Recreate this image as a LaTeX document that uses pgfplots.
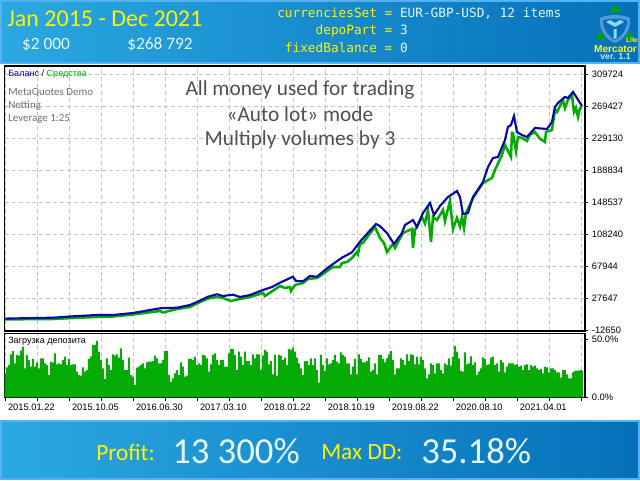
\documentclass[border=0pt]{standalone}
\usepackage{fontspec}
\usepackage{pgfplots}
\pgfplotsset{compat=1.18}
\setmainfont{Liberation Sans}
\newfontfamily\tf{Carlito}
\newfontfamily\mf{DejaVu Sans Mono}
\definecolor{bandL}{HTML}{2BA8E1}
\definecolor{bandR}{HTML}{0570B9}
\definecolor{bandB}{HTML}{55B2F2}
\definecolor{eqgreen}{HTML}{04AB04}
\definecolor{balblue}{HTML}{0808A8}
\definecolor{gridc}{HTML}{C4C4C4}
\definecolor{anno}{HTML}{505050}
\definecolor{meta}{HTML}{707070}
\pgfplotstableread{
x y
5 2000
20 2407
53 3164
73 4931
97 6572
113 6572
133 9096
160 15027
177 15784
190 19192
200 24618
208 29666
217 32695
223 30550
233 32190
240 29288
250 31812
263 38122
272 41908
280 47334
293 54906
296 49480
303 49101
310 55790
317 54906
325 63362
333 70934
342 78884
352 85699
360 99076
368 110434
376 121414
380 118890
387 110056
394 96174
402 110056
405 120152
413 126462
417 117628
423 135296
430 147916
434 132772
440 144130
448 155488
457 163060
460 155488
463 134034
468 135296
473 155488
483 174418
488 193348
493 204706
498 205968
505 227422
508 243828
511 246352
514 257710
517 237518
522 233732
527 231208
535 242566
547 241304
552 250138
555 269068
558 274116
565 281688
568 280426
573 287998
577 280426
582 270330
}\balance
\pgfplotstableread{
x y
5 1000
20 1200
53 1524
73 2786
97 4048
113 4679
133 7203
160 11620
163 9727
177 14144
190 16668
200 22978
208 27395
217 29288
223 28026
231 24240
240 26764
250 29288
263 34336
265 30550
277 40646
280 43170
285 40646
290 41908
291 36860
295 44432
303 46956
308 52004
317 53266
320 55790
327 62100
333 67148
340 67148
342 72196
347 73458
352 78506
357 86078
358 83554
360 96174
363 97436
368 106270
375 117628
380 103746
384 97436
387 86078
393 96174
395 91126
398 98698
403 110056
412 115104
413 91126
415 113842
422 130248
425 122000
428 139082
431 98698
433 130248
437 126462
443 139082
445 125000
447 135296
450 150440
453 115104
457 128986
460 118000
462 130248
464 116366
466 135296
473 154226
483 173156
492 179466
495 189562
502 208492
505 221112
511 205968
512 236256
513 236256
516 213540
518 231208
522 229946
527 226160
530 234000
535 237518
540 229000
545 224898
546 237518
552 240042
555 265282
557 262758
563 277902
565 267806
568 278000
572 284212
574 262758
576 268000
578 256448
580 267806
582 269068
}\equity
\begin{document}
\begin{tikzpicture}
\path[use as bounding box] (0,0) rectangle (480pt,360pt);
\fill[white] (0,0) rectangle (480pt,360pt);
\begin{scope}[x=0.75pt,y=0.75pt]
\shade[left color=bandL,right color=bandR,draw=bandB,line width=1.5pt] (0.75,417.5) rectangle (639.25,479.25);
\shade[left color=bandL,right color=bandR,draw=bandB,line width=1.5pt] (0.75,0.75) rectangle (639.25,59.5);
\end{scope}
% main panel
\begin{axis}[
  at={(3.525pt,111.75pt)},anchor=south west,
  scale only axis,width=435.2pt,height=198.75pt,
  xmin=4.7,xmax=585,ymin=-13620,ymax=320810,
  axis line style={black,line width=0.85pt},
  xmajorgrids=true,ymajorgrids=true,
  major grid style={draw=gridc,line width=0.75pt,dash pattern=on 3pt off 2.2pt},
  xtick={5.3,37.3,69.3,101.3,133.3,165.3,197.3,229.3,261.3,293.3,325.3,357.3,389.3,421.3,453.3,485.3,517.3,549.3,581.3},
  xticklabels={},
  xtick style={draw=none},
  scaled y ticks=false,
  ytick={-12650,27647,67944,108240,148537,188834,229130,269427,309724},
  yticklabels={-12650,27647,67944,108240,148537,188834,229130,269427,309724},
  ytick pos=right,yticklabel pos=right,
  ytick align=outside,
  major tick length=2.5pt,
  ytick style={black,line width=0.6pt},
  yticklabel style={font=\fontsize{7}{8}\selectfont,xshift=-0.8pt},
]
\addplot[eqgreen,line width=1.9pt,line join=miter] table[x=x,y=y]{\equity};
\addplot[balblue,line width=1.6pt,line join=miter] table[x=x,y=y]{\balance};
\end{axis}
% load panel
\begin{axis}[
  at={(3.525pt,62pt)},anchor=south west,
  scale only axis,width=435.2pt,height=48.2pt,
  xmin=4.7,xmax=585,ymin=0,ymax=55.1,
  axis line style={black,line width=0.85pt},
  xmajorgrids=true,
  major grid style={draw=gridc,line width=0.75pt,dash pattern=on 3pt off 2.2pt},
  xtick={5.3,37.3,69.3,101.3,133.3,165.3,197.3,229.3,261.3,293.3,325.3,357.3,389.3,421.3,453.3,485.3,517.3,549.3,581.3},
  xticklabels={2015.01.22,,2015.10.05,,2016.06.30,,2017.03.10,,2018.01.22,,2018.10.19,,2019.08.22,,2020.08.10,,2021.04.01,,},
  xtick pos=bottom,
  x tick label style={anchor=north west,font=\fontsize{7}{8}\selectfont,xshift=-1.5pt,yshift=1pt},
  ytick={0,50},yticklabels={0.0\%,50.0\%},
  ytick pos=right,yticklabel pos=right,
  tick align=outside,
  major tick length=2.5pt,
  tick style={black,line width=0.6pt},
  yticklabel style={font=\fontsize{7}{8}\selectfont,xshift=-0.8pt},
]
\addplot[const plot,fill=eqgreen,draw=none] coordinates {
(4,20.6)(6,25.7)(8,27.7)(10,36.9)(12,39.7)(14,29.1)(16,36.3)(18,35.7)(20,40)(22,43.4)(24,24.9)(26,36.3)(28,32)(30,26.3)(32,32.9)(34,26.3)(36,30)(38,24.9)(40,33.4)(42,33.4)(44,29.1)(46,27.7)(48,19.1)(50,30.6)(52,30)(54,37.7)(56,28.3)(58,29.1)(60,28.3)(62,32)(64,34.9)(66,27.7)(68,32.9)(70,27.7)(72,28.3)(74,28.3)(76,22)(78,19.1)(80,18.6)(82,25.7)(84,22)(86,23.4)(88,32.9)(90,34.9)(92,44.9)(94,44.9)(96,48.3)(98,39.1)(100,32)(102,24.9)(104,15.7)(106,33.4)(108,27.7)(110,23.4)(112,36.9)(114,35.7)(116,36.9)(118,34)(120,42)(122,32)(124,23.4)(126,23.4)(128,34)(130,19.1)(132,17.7)(134,10.6)(136,25.4)(138,26.3)(140,27.7)(142,29.1)(144,24.9)(146,30)(148,30.6)
(150,30.6)(152,31.1)(154,35.7)(156,33.4)(158,29.1)(160,29.1)(162,32)(164,39.7)(166,39.7)(168,19.1)(170,13.4)(172,16.3)(174,20.6)(176,23.4)(178,19.1)(180,30)(182,26.3)(184,17.7)(186,18.6)(188,32.9)(190,32.9)(192,32)(194,34.9)(196,27.7)(198,29.1)(200,27.7)(202,36.3)(204,35.7)(206,33.4)(208,22)(210,28.3)(212,36.3)(214,37.7)(216,32)(218,27.7)(220,32)(222,32)(224,26.3)(226,26.3)(228,37.7)(230,41.4)(232,41.4)(234,36.3)(236,23.4)(238,39.1)(240,34.9)(242,27.7)(244,39.1)(246,31.1)(248,31.1)(250,27.7)(252,36.9)(254,33.4)(256,36.9)(258,36.9)(260,23.4)(262,35.7)(264,40.6)(266,39.1)(268,28.3)(270,31.1)(272,19.7)(274,36.3)(276,18.6)(278,36.3)(280,35.7)(282,32)(284,34)(286,27.7)(288,41.4)(290,40.6)(292,42.6)(294,39.1)(296,34)(298,29.1)
(300,24.9)(302,19.1)(304,31.1)(306,31.1)(308,27.7)(310,33.4)(312,27.7)(314,33.4)(316,23.4)(318,12.6)(320,36.3)(322,27.7)(324,22.6)(326,33.4)(328,28.3)(330,29.1)(332,32)(334,36.3)(336,30.6)(338,29.1)(340,38.6)(342,36.3)(344,34.9)(346,29.1)(348,29.1)(350,19.7)(352,26.3)(354,32.9)(356,19.7)(358,36.9)(360,32.9)(362,30)(364,30)(366,31.1)(368,34.3)(370,22)(372,23.4)(374,29.1)(376,19.7)(378,36.3)(380,36.3)(382,32.9)(384,30)(386,33.4)(388,36.9)(390,39.7)(392,32)(394,19.7)(396,24.9)(398,24.9)(400,33.4)(402,32)(404,27.7)(406,36.9)(408,31.1)(410,36.9)(412,36.3)(414,28.3)(416,34.9)(418,28.3)(420,34.9)(422,32)(424,24.9)(426,16.3)(428,19.7)(430,29.1)(432,27.7)(434,20.6)(436,29.1)(438,29.1)(440,23.4)(442,20.6)(444,29.1)(446,27.7)(448,33.4)
(450,27.1)(452,34.9)(454,44)(456,39.1)(458,33.4)(460,22.6)(462,22)(464,38.6)(466,28.3)(468,29.1)(470,35.1)(472,27.7)(474,30)(476,19.1)(478,22)(480,24.9)(482,34.3)(484,32.9)(486,27.7)(488,28.3)(490,34)(492,34.9)(494,27.7)(496,29.1)(498,22)(500,32)(502,30)(504,21.4)(506,26.3)(508,29.1)(510,29.1)(512,29.1)(514,27.7)(516,28.6)(518,26.3)(520,27.1)(522,23.4)(524,27.7)(526,28.3)(528,23.4)(530,27.7)(532,26.3)(534,27.1)(536,24.9)(538,23.4)(540,24.3)(542,20.6)(544,26.3)(546,25.7)(548,21.4)(550,24.9)(552,24.9)(554,23.4)(556,21.4)(558,21.4)(560,16.9)(562,23.4)(564,23.4)(566,19.7)(568,16.3)(570,16.3)(572,21.4)(574,22.6)(576,22.9)(578,22.9)(580,23.4)(582,22.6)(583,22.6)
} \closedcycle;
\end{axis}
\begin{scope}[x=0.75pt,y=0.75pt]
% panel captions
\node[anchor=west,inner sep=0,font=\fontsize{6.8}{8}\selectfont] at (8,405.5) {\textcolor{blue!80!black}{Баланс} \textcolor{black}{/} \textcolor{green!70!black}{Средства}};
\node[anchor=west,inner sep=0,font=\fontsize{6.8}{8}\selectfont,text=black] at (8,138.5) {Загрузка депозита};
\node[anchor=west,inner sep=0,font=\tf\fontsize{8.2}{9}\selectfont,text=meta] at (8,387.5) {MetaQuotes Demo};
\node[anchor=west,inner sep=0,font=\tf\fontsize{8.2}{9}\selectfont,text=meta] at (8,374.5) {Netting};
\node[anchor=west,inner sep=0,font=\tf\fontsize{8.2}{9}\selectfont,text=meta] at (8,361.5) {Leverage 1:25};
% annotation
\node[inner sep=0,font=\tf\fontsize{16}{18}\selectfont,text=anno] at (300,390) {All money used for trading};
\node[inner sep=0,font=\tf\fontsize{16}{18}\selectfont,text=anno] at (300,366) {«Auto lot» mode};
\node[inner sep=0,font=\tf\fontsize{16}{18}\selectfont,text=anno] at (300,340.5) {Multiply volumes by 3};
% header
\node[anchor=west,inner sep=0,font=\tf\fontsize{18}{20}\selectfont,text=yellow] at (7,461) {Jan 2015 - Dec 2021};
\node[inner sep=0,font=\tf\fontsize{13}{15}\selectfont,text=white!90!cyan] at (46,435) {\$2 000};
\node[inner sep=0,font=\tf\fontsize{13}{15}\selectfont,text=white!90!cyan] at (160,435.5) {\$268 792};
\node[anchor=west,inner sep=0,font=\mf\fontsize{9.56}{11}\selectfont] at (277,466.5) {\textcolor{yellow}{currenciesSet = }\textcolor{white!90!cyan}{EUR-GBP-USD, 12 items}};
\node[anchor=west,inner sep=0,font=\mf\fontsize{9.56}{11}\selectfont] at (315.4,449.5) {\textcolor{yellow}{depoPart = }\textcolor{white!90!cyan}{3}};
\node[anchor=west,inner sep=0,font=\mf\fontsize{9.56}{11}\selectfont] at (284.7,432.5) {\textcolor{yellow}{fixedBalance = }\textcolor{white!90!cyan}{0}};
% logo
\fill[green!65!black] (609,468) -- (615,475) -- (621,468) -- cycle;
\fill[green!65!black] (595.5,441) -- (600.5,448.5) -- (605.5,441) -- cycle;
\fill[green!65!black] (624.5,441) -- (629.5,448.5) -- (634.5,441) -- cycle;
\fill[cyan!60!blue!70!white] (600,462) .. controls (608,466) and (622,466) .. (630,462) .. controls (631,450) and (625,441) .. (615,437) .. controls (605,441) and (599,450) .. (600,462) -- cycle;
\fill[bandR] (603,459.5) .. controls (610,462) and (620,462) .. (627,459.5) .. controls (627,451) and (622,444) .. (615,440) .. controls (608,444) and (603,451) .. (603,459.5) -- cycle;
\fill[cyan!45!white] (606,458) -- (615,453) -- (624,458) -- (620,460) -- (615,457) -- (610,460) -- cycle;
\fill[cyan!45!white] (613.5,451) -- (616.5,451) -- (616.5,442) -- (615,441) -- (613.5,442) -- cycle;
\node[inner sep=0,font=\fontsize{5}{6}\bfseries\selectfont,text=yellow!85!white] at (632,440) {Lite};
\node[inner sep=0,font=\fontsize{7.6}{9}\bfseries\selectfont,text=yellow!85!white] at (615.5,431) {Mercator};
\node[inner sep=0,font=\fontsize{6.5}{8}\bfseries\selectfont,text=cyan!25!white] at (615.5,423) {ver. 1.1};
% footer
\node[anchor=west,inner sep=0,font=\tf\fontsize{17.5}{20}\selectfont,text=yellow] at (96,27.5) {Profit:};
\node[anchor=west,inner sep=0,font=\tf\fontsize{27.5}{30}\selectfont,text=white!90!cyan] at (172,29) {13 300\%};
\node[anchor=west,inner sep=0,font=\tf\fontsize{17.5}{20}\selectfont,text=yellow] at (321,27.5) {Max DD:};
\node[anchor=west,inner sep=0,font=\tf\fontsize{27.5}{30}\selectfont,text=white!90!cyan] at (421,29) {35.18\%};
\end{scope}
\end{tikzpicture}
\end{document}
